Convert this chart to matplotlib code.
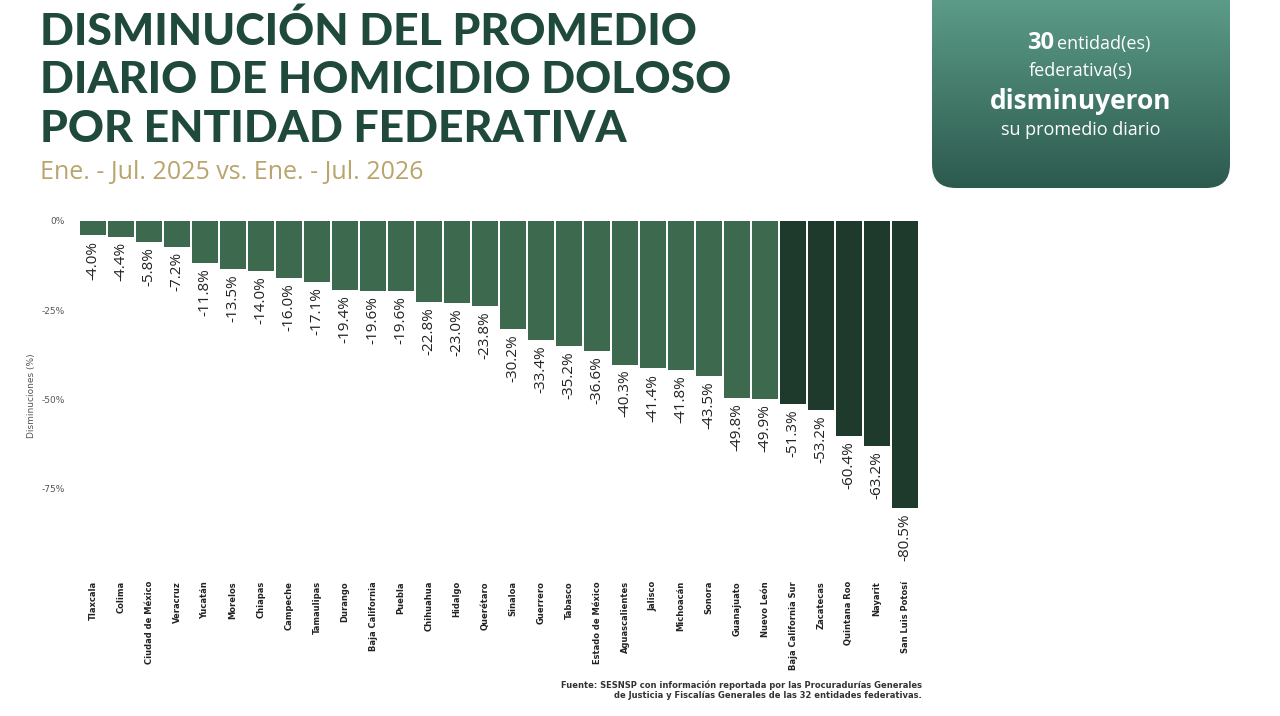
import numpy as np
import matplotlib.pyplot as plt
from matplotlib.patches import FancyBboxPatch
from matplotlib.colors import LinearSegmentedColormap

estados = ["Tlaxcala", "Colima", "Ciudad de México", "Veracruz", "Yucatán", "Morelos", "Chiapas",
           "Campeche", "Tamaulipas", "Durango", "Baja California", "Puebla", "Chihuahua", "Hidalgo",
           "Querétaro", "Sinaloa", "Guerrero", "Tabasco", "Estado de México", "Aguascalientes",
           "Jalisco", "Michoacán", "Sonora", "Guanajuato", "Nuevo León", "Baja California Sur",
           "Zacatecas", "Quintana Roo", "Nayarit", "San Luis Potosí"]
cambio = [-4.0, -4.4, -5.8, -7.2, -11.8, -13.5, -14.0, -16.0, -17.1, -19.4, -19.6, -19.6, -22.8,
          -23.0, -23.8, -30.2, -33.4, -35.2, -36.6, -40.3, -41.4, -41.8, -43.5, -49.8, -49.9,
          -51.3, -53.2, -60.4, -63.2, -80.5]
yticks = [0, -25, -50, -75]

fig = plt.figure(figsize=(12.8, 7.16), dpi=100)
fig.patch.set_facecolor("white")

# recuadro de la derecha con degradado
bx = fig.add_axes([932/1280, 1-188/716, 298/1280, 188/716])
bx.set_xlim(0, 1); bx.set_ylim(0, 1); bx.axis("off")
grad = np.linspace(0, 1, 256).reshape(-1, 1)
cmap = LinearSegmentedColormap.from_list("g", ["#2c5a4e", "#5c9b88"])
im = bx.imshow(grad, cmap=cmap, extent=[0, 1, 0, 1], aspect="auto", origin="lower")
clip = FancyBboxPatch((0.0, -0.0), 1.0, 1.3, boxstyle="round,pad=0,rounding_size=0.08",
                      transform=bx.transAxes, facecolor="none", edgecolor="none",
                      mutation_aspect=298/188)
bx.add_patch(clip)
im.set_clip_path(clip)
bx.text(0.41, 0.77, "30", fontsize=17, fontweight="bold", color="white", ha="right",
        va="center", family="Open Sans")
bx.text(0.42, 0.765, "entidad(es)", fontsize=13, color="white", ha="left", va="center",
        family="Open Sans")
bx.text(0.5, 0.62, "federativa(s)", fontsize=13, color="white", ha="center", va="center",
        family="Open Sans")
bx.text(0.5, 0.46, "disminuyeron", fontsize=19, fontweight="bold", color="white", ha="center",
        va="center", family="Open Sans")
bx.text(0.5, 0.31, "su promedio diario", fontsize=13, color="white", ha="center", va="center",
        family="Open Sans")

# título
tcol = "#1f4a3b"
for i, t in enumerate(["DISMINUCIÓN DEL PROMEDIO", "DIARIO DE HOMICIDIO DOLOSO",
                       "POR ENTIDAD FEDERATIVA"]):
    fig.text(40/1280, 1-(31+i*49)/716, t, fontsize=32, fontweight="black", color=tcol,
             family="Lato", va="center")
fig.text(40/1280, 1-173/716, "Ene. - Jul. 2025 vs. Ene. - Jul. 2026", fontsize=18,
         color="#b9a46c", family="Open Sans", va="center")

ax = fig.add_axes([79/1280, 1-570/716, 840/1280, 349/716])
x = np.arange(len(estados))
colores = ["#3d6a4f"] * 25 + ["#1e3a2c"] * 5
ax.bar(x, cambio, width=0.9, color=colores)
for xi, v in zip(x, cambio):
    ax.text(xi, v - 1.5, f"{v:.1f}%", rotation=90, ha="center", va="top", fontsize=11,
            color="#222222", family="Open Sans")
ax.set_xlim(-0.5, len(estados) - 0.5)
ax.set_ylim(-98, 0)
ax.set_yticks(yticks)
ax.set_yticklabels([f"{t}%" for t in yticks], fontsize=6.5, color="#555555")
ax.set_xticks(x)
ax.set_xticklabels(estados, rotation=90, fontsize=6, fontweight="bold", color="#222222",
                   va="top", ha="center")
ax.tick_params(length=0)
ax.tick_params(axis="x", pad=8)
ax.tick_params(axis="y", pad=10)
for s in ax.spines.values():
    s.set_visible(False)
ax.set_ylabel("Disminuciones (%)", fontsize=6.5, color="#555555", labelpad=4)

fig.text(922/1280, 1-690/716, "Fuente: SESNSP con información reportada por las Procuradurías Generales\n"
         "de Justicia y Fiscalías Generales de las 32 entidades federativas.",
         fontsize=6, fontweight="bold", color="#333333", ha="right", va="center",
         multialignment="right")

fig.savefig("out.png", dpi=100)
